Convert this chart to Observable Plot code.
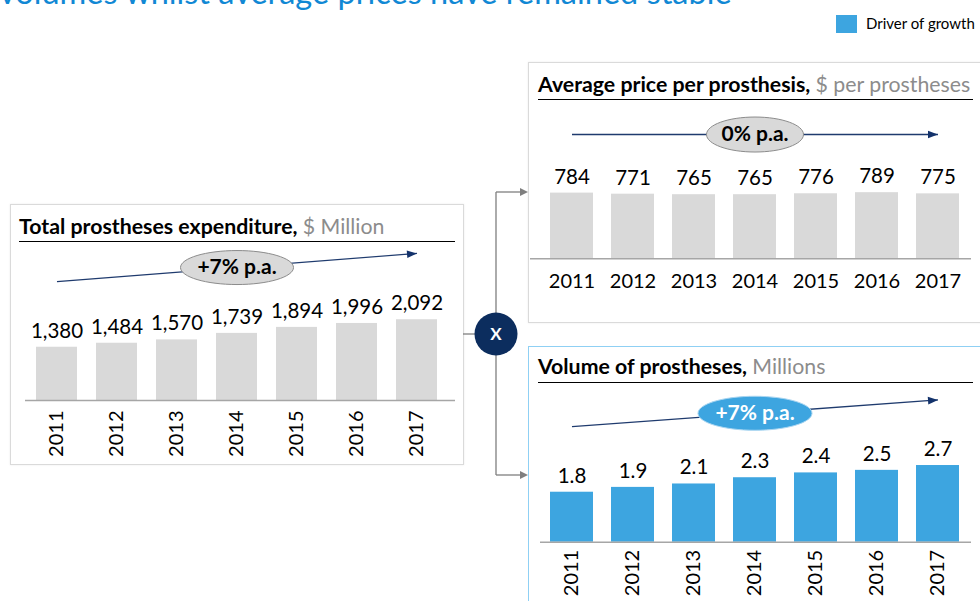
<!DOCTYPE html>
<html><head><meta charset="utf-8">
<script src="https://cdn.jsdelivr.net/npm/d3@7"></script>
<script src="https://cdn.jsdelivr.net/npm/@observablehq/plot@0.6"></script>
<style>
body{margin:0;background:#fff;font-family:Lato,"Open Sans",sans-serif;}
#root{position:relative;width:980px;height:601px;overflow:hidden;background:#fff;}
.abs{position:absolute;}
.box{position:absolute;box-sizing:border-box;}
.ptitle{position:absolute;white-space:nowrap;font-size:21.3px;line-height:21.3px;color:#000;font-weight:700;}
.ptitle span{color:#8c8c8c;font-weight:400}
.uline{position:absolute;height:1.4px;background:#000;}
</style></head><body><div id="root"></div>
<script>
// ---- data ----
const years = ["2011","2012","2013","2014","2015","2016","2017"];
const expenditure = [1380,1484,1570,1739,1894,1996,2092];          // $ Million
const expenditureLabels = ["1,380","1,484","1,570","1,739","1,894","1,996","2,092"];
const price = [784,771,765,765,776,789,775];                          // $ per prosthesis
const priceLabels = ["784","771","765","765","776","789","775"];
const volume = [1.76,1.93,2.05,2.27,2.44,2.53,2.70];                  // Millions
const volumeLabels = ["1.8","1.9","2.1","2.3","2.4","2.5","2.7"];
const growthTexts = ["+7% p.a.","0% p.a.","+7% p.a."];
// growth arrow end levels, in each chart's own units
const expenditureArrow = [3080, 3810];
const priceArrow = [1483, 1483];
const volumeArrow = [4.07, 5.01];

const root = document.getElementById("root");
function el(tag, cls, css, html){const e=document.createElement(tag); if(cls) e.className=cls; Object.assign(e.style, css||{}); if(html!=null) e.innerHTML=html; root.appendChild(e); return e;}

// headline (second line of slide title, partially cut as in the source)
el("div","abs",{left:"-1px",top:"-24.3px",fontSize:"32.5px",lineHeight:"32.5px",color:"#1188d4",whiteSpace:"nowrap"},"volumes whilst average prices have remained stable");
// legend
el("div","abs",{left:"836px",top:"15px",width:"21px",height:"18px",background:"#3da5e0"});
el("div","abs",{left:"866px",top:"16px",fontSize:"15px",lineHeight:"15px",color:"#000",whiteSpace:"nowrap"},"Driver of growth");

// panel boxes
el("div","box",{left:"10px",top:"204px",width:"454px",height:"261px",border:"1px solid #dadada",boxShadow:"0 0 2px rgba(0,0,0,0.08)"});
el("div","box",{left:"528px",top:"62px",width:"470px",height:"261px",border:"1px solid #dadada",boxShadow:"0 0 2px rgba(0,0,0,0.08)"});
el("div","box",{left:"528px",top:"346px",width:"470px",height:"300px",border:"1.5px solid #8fd0f4"});

// panel titles
el("div","ptitle",{left:"19px",top:"216px"},"Total prostheses expenditure, <span>$ Million</span>");
el("div","uline",{left:"19px",top:"241px",width:"436px"});
el("div","ptitle",{left:"538px",top:"74px"},"Average price per prosthesis, <span>$ per prostheses</span>");
el("div","uline",{left:"538px",top:"98.5px",width:"435px"});
el("div","ptitle",{left:"538px",top:"356px"},"Volume of prostheses, <span>Millions</span>");
el("div","uline",{left:"538px",top:"382px",width:"435px"});

// connectors
const ns="http://www.w3.org/2000/svg";
const conn = document.createElementNS(ns,"svg");
conn.setAttribute("width",980); conn.setAttribute("height",601);
Object.assign(conn.style,{position:"absolute",left:"0",top:"0"});
conn.innerHTML = `
<g stroke="#7f7f7f" stroke-width="1.3" fill="none">
<path d="M463,334H476"/><path d="M496,192V475"/><path d="M496,192H521"/><path d="M496,475H521"/>
</g>
<path d="M528,192L520,188L520,196Z" fill="#7f7f7f"/>
<path d="M528,475L520,471L520,479Z" fill="#7f7f7f"/>
<circle cx="496" cy="334" r="21.5" fill="#0c2d5e"/>
<text x="496" y="340" text-anchor="middle" fill="#fff" font-family="Lato" font-weight="700" font-size="17">X</text>`;
root.appendChild(conn);

// symbols
function ellipseSymbol(rx, ry){const k=0.5523;return {draw(c){c.moveTo(rx,0);c.bezierCurveTo(rx,ry*k,rx*k,ry,0,ry);c.bezierCurveTo(-rx*k,ry,-rx,ry*k,-rx,0);c.bezierCurveTo(-rx,-ry*k,-rx*k,-ry,0,-ry);c.bezierCurveTo(rx*k,-ry,rx,-ry*k,rx,0);c.closePath();}};}
function headSymbol(deg){const a=deg*Math.PI/180, ca=Math.cos(a), sa=Math.sin(a);const pts=[[0,0],[-10,-3.8],[-10,3.8]].map(([x,y])=>[x*ca-y*sa,x*sa+y*ca]);return {draw(c){c.moveTo(...pts[0]);c.lineTo(...pts[1]);c.lineTo(...pts[2]);c.closePath();}};}

function panel({values, labels, fill, yMax, left, top, width, height, marginLeft, marginRight, marginBottom, pad, arrow, growth, ellipse, ellFill, ellStroke, ellText, rotateYears, yearDy, insetL, insetR, headDeg}){
  const data = years.map((y,i)=>({year:y, v:values[i], label:labels[i]}));
  const ann = [{x1:years[0], x2:years[years.length-1], mid:years[3], y1:arrow[0], y2:arrow[1], ym:(arrow[0]+arrow[1])/2, text:growth}];
  const marks = [
    Plot.barY(data,{x:"year",y:"v",fill}),
    Plot.ruleY([0],{stroke:"#a6a6a6",strokeWidth:1.6,insetLeft:insetL,insetRight:insetR}),
    Plot.text(data,{x:"year",y:"v",text:"label",lineAnchor:"bottom",dy:-9.5,fontSize:20.5,fill:"#000"}),
    rotateYears
      ? Plot.text(data,{x:"year",y:0,text:"year",rotate:-90,textAnchor:"end",lineAnchor:"middle",dy:yearDy,fontSize:20,fill:"#000"})
      : Plot.text(data,{x:"year",y:0,text:"year",lineAnchor:"bottom",dy:yearDy,fontSize:20,fill:"#000"}),
    Plot.link(ann,{x1:"x1",x2:"x2",y1:"y1",y2:"y2",stroke:"#1f3b6e",strokeWidth:1.3}),
    Plot.dot(ann,{x:"x2",y:"y2",symbol:headSymbol(headDeg),fill:"#13326b",stroke:"none"}),
    Plot.dot(ann,{x:"mid",y:"ym",symbol:ellipseSymbol(ellipse[0],ellipse[1]),fill:ellFill,stroke:ellStroke,strokeWidth:1}),
    Plot.text(ann,{x:"mid",y:"ym",text:"text",fontSize:21,fontWeight:700,fill:ellText,lineAnchor:"middle"})
  ];
  const chart = Plot.plot({
    width, height, marginLeft, marginRight, marginTop:0, marginBottom,
    x:{domain:years, paddingInner:pad, paddingOuter:0, align:0.5, axis:null},
    y:{domain:[0,yMax], axis:null},
    style:{fontFamily:"Lato, 'Open Sans', sans-serif", background:"transparent", overflow:"visible"},
    marks
  });
  Object.assign(chart.style,{position:"absolute",left:left+"px",top:top+"px"});
  root.appendChild(chart);
}

panel({values:expenditure, labels:expenditureLabels, fill:"#d9d9d9", yMax:4016, left:11, top:245, width:452, height:219,
  marginLeft:24, marginRight:26, marginBottom:64, pad:0.32, arrow:expenditureArrow, growth:growthTexts[0],
  ellipse:[56.5,17], ellFill:"#d9d9d9", ellStroke:"#8c8c8c", ellText:"#000", rotateYears:true, yearDy:10, insetL:-10, insetR:-18, headDeg:-4.6});
panel({values:price, labels:priceLabels, fill:"#d9d9d9", yMax:1889, left:529, top:100, width:451, height:221,
  marginLeft:19, marginRight:18, marginBottom:62.7, pad:0.29, arrow:priceArrow, growth:growthTexts[1],
  ellipse:[48.5,17.5], ellFill:"#d9d9d9", ellStroke:"#8c8c8c", ellText:"#000", rotateYears:false, yearDy:28.7, insetL:-18, insetR:-9, headDeg:0});
panel({values:volume, labels:volumeLabels, fill:"#3da5e0", yMax:5.553, left:529, top:384, width:451, height:217,
  marginLeft:19, marginRight:18, marginBottom:59.3, pad:0.29, arrow:volumeArrow, growth:growthTexts[2],
  ellipse:[57,17], ellFill:"#3da5e0", ellStroke:"#a8d5f1", ellText:"#fff", rotateYears:true, yearDy:7.6, insetL:-8, insetR:-9, headDeg:-4.1});
</script></body></html>
